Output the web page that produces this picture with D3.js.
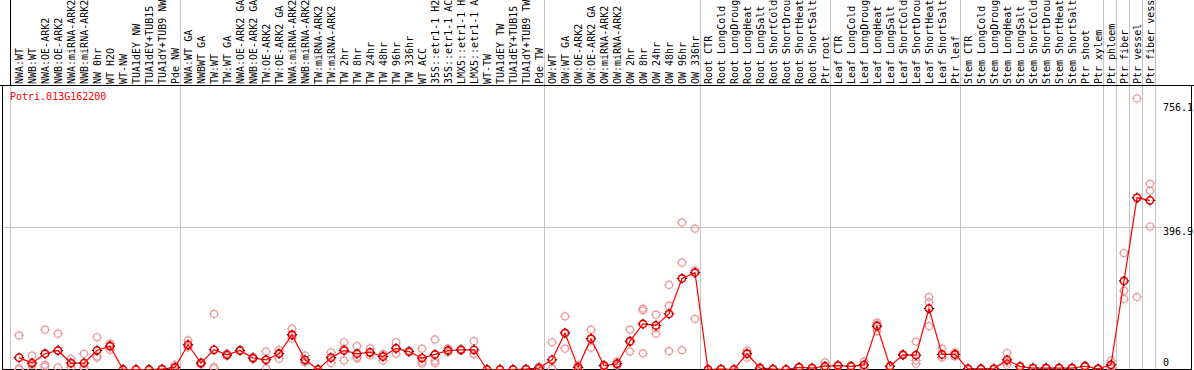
<!DOCTYPE html>
<html><head><meta charset="utf-8">
<script src="https://cdn.jsdelivr.net/npm/d3@7/dist/d3.min.js"></script>
<style>
html,body{margin:0;padding:0;background:#fff;}
svg{display:block;}
text{font-family:"DejaVu Sans Mono",monospace;font-size:10px;}
</style></head>
<body>
<svg id="chart" width="1194" height="370"></svg>
<script>
const geneName = "Potri.013G162200";
const categories = [
 "NWA:WT","NWB:WT","NWA:OE-ARK2","NWB:OE-ARK2","NWA:miRNA-ARK2","NWB:miRNA-ARK2","NW 0hr","WT H2O","WT-NW","TUA1dEY NW","TUA1dEY+TUB15","TUA1dY+TUB9 NW","Pde NW",
 "NWA:WT GA","NWBWT GA","TW:WT","TW:WT GA","NWA:OE-ARK2 GA","NWB:OE-ARK2 GA","TW:OE-ARK2","TW:OE-ARK2 GA","NWA:miRNA-ARK2","NWB:miRNA-ARK2","TW:miRNA-ARK2","TW:miRNA-ARK2","TW 2hr","TW 8hr","TW 24hr","TW 48hr","TW 96hr","TW 336hr","WT ACC","35S::etr1-1 H2","35S::etr1-1 AC","LMX5::etr1-1 H","LMX5::etr1-1 A","WT-TW","TUA1dEY TW","TUA1dEY+TUB15","TUA1dY+TUB9 TW","Pde TW",
 "OW:WT","OW:WT GA","OW:OE-ARK2","OW:OE-ARK2 GA","OW:miRNA-ARK2","OW:miRNA-ARK2","OW 2hr","OW 8hr","OW 24hr","OW 48hr","OW 96hr","OW 336hr",
 "Root CTR","Root LongCold","Root LongDroug","Root LongHeat","Root LongSalt","Root ShortCold","Root ShortDrou","Root ShortHeat","Root ShortSalt","Ptr root",
 "Leaf CTR","Leaf LongCold","Leaf LongDroug","Leaf LongHeat","Leaf LongSalt","Leaf ShortCold","Leaf ShortDrou","Leaf ShortHeat","Leaf ShortSalt","Ptr leaf",
 "Stem CTR","Stem LongCold","Stem LongDroug","Stem LongHeat","Stem LongSalt","Stem ShortCold","Stem ShortDrou","Stem ShortHeat","Stem ShortSalt","Ptr shoot","Ptr xylem",
 "Ptr phloem","Ptr fiber","Ptr vessel","Ptr fiber vess"
];
// last category index (0-based) of each group, separators drawn after them
const groupEnds = [12, 40, 52, 62, 72, 83, 84, 85, 86, 87];
const meanValues = [
 33,18,44,53,18,18,53,65,0,0,0,1,6,
 69,18,55,41,53,32,27,44,97,27,0,33,53,44,48,36,59,50,32,42,53,55,55,0,0,0,1,4,
 27,102,6,86,11,16,79,127,123,155,254,270,
 0,1,0,44,4,1,0,6,4,9,
 11,9,13,121,9,41,40,170,42,42,
 2,2,2,27,8,4,4,4,4,9,2,
 13,247,479,472
];
const rep1 = [
 95,39,111,100,30,44,90,72,0,0,0,2,13,
 81,20,155,45,55,35,50,55,114,39,0,48,76,65,59,44,76,52,58,84,59,57,79,0,0,0,2,8,
 76,148,12,111,13,22,111,170,153,178,410,393,
 0,2,0,53,6,2,0,8,5,20,
 13,10,22,131,10,43,78,202,58,48,
 3,3,3,46,10,5,5,5,5,11,3,
 25,325,756.1,518
];
const rep2 = [
 3,13,13,53,17,6,36,68,0,0,0,1,4,
 64,18,7,40,52,31,27,46,94,22,0,32,58,35,46,40,59,50,21,24,52,55,44,0,0,0,1,3,
 3,101,5,86,10,15,76,165,116,236,298,276,
 0,1,0,45,4,1,0,6,4,4,
 11,9,10,125,9,41,25,188,34,42,
 2,2,2,21,8,4,4,4,4,9,2,
 10,220,480,499
];
const rep3 = [
 0,1,8,6,6,3,33,55,0,0,0,0,1,
 62,14,3,38,52,30,3,30,86,20,0,18,25,31,39,25,44,48,16,18,48,53,42,0,0,0,0,1,
 2,58,1,61,9,11,50,45,100,51,54,141,
 0,0,0,33,2,0,0,5,3,3,
 9,8,7,107,8,39,16,121,34,36,
 1,1,1,13,7,3,3,3,3,7,1,
 4,197,202,399
];
const yMax = 793.8;
const yTickValues = [756.1, 396.9, 0];
const yTickLabels = ["756.1", "396.9", "0"];

const W = 1194, H = 370;
const plotTop = 85, plotBottom = 369.5, plotLeft = 2, plotRight = 1191;
const svg = d3.select("#chart");

const x = d3.scalePoint().domain(d3.range(categories.length)).range([19, 19 + 13 * (categories.length - 1)]);
const y = d3.scaleLinear().domain([0, yMax]).range([plotBottom, plotTop]);

// separators (gray, full height)
const sepX = [x(0) - 9].concat(groupEnds.map(i => x(i) + 5));
svg.append("g").selectAll("line").data(sepX).join("line")
  .attr("x1", d => Math.round(d) + 0.5).attr("x2", d => Math.round(d) + 0.5)
  .attr("y1", 0).attr("y2", H)
  .attr("stroke", "#c4c4c4").attr("stroke-width", 1);

// horizontal grid at mid value
svg.append("line")
  .attr("x1", plotLeft).attr("x2", 1162)
  .attr("y1", Math.round(y(yTickValues[1])) + 0.5).attr("y2", Math.round(y(yTickValues[1])) + 0.5)
  .attr("stroke", "#c4c4c4");

// frame
const frame = svg.append("g").attr("stroke", "#000").attr("stroke-width", 1);
frame.append("line").attr("x1", 0).attr("x2", W).attr("y1", plotTop + 0.5).attr("y2", plotTop + 0.5);
frame.append("line").attr("x1", plotLeft + 0.5).attr("x2", plotLeft + 0.5).attr("y1", plotTop).attr("y2", H);
frame.append("line").attr("x1", plotRight + 0.5).attr("x2", plotRight + 0.5).attr("y1", plotTop).attr("y2", H);
frame.append("line").attr("x1", 10.5).attr("x2", 10.5).attr("y1", 0).attr("y2", plotTop);
frame.append("line").attr("x1", plotLeft).attr("x2", plotRight + 1).attr("y1", 369.5).attr("y2", 369.5);

// category labels (rotated)
svg.append("g").selectAll("text").data(categories).join("text")
  .attr("transform", (d, i) => `translate(${x(i) + 3.5},84) rotate(-90)`)
  .attr("fill", "#000")
  .text(d => d);

// y labels
const yOffsets = [12, 8, -4];
svg.append("g").selectAll("text").data(yTickValues).join("text")
  .attr("x", 1163)
  .attr("y", (d, i) => y(d) + yOffsets[i])
  .attr("fill", "#000")
  .text((d, i) => yTickLabels[i]);

// gene name
svg.append("text").attr("x", 10).attr("y", 100).attr("fill", "#ff0000").text(geneName);

// replicates
const reps = [];
categories.forEach((c, i) => { [rep1, rep2, rep3].forEach(r => reps.push({i, v: r[i]})); });
const repG = svg.append("g").selectAll("g").data(reps).join("g")
  .attr("transform", d => `translate(${x(d.i)},${y(d.v)})`);
repG.append("circle").attr("r", 3.5)
  .attr("fill", "none").attr("stroke", "#ee9a9a").attr("stroke-width", 1.2);
repG.append("path").attr("d", "M0,-3.5V-5M0,3.5V5M-3.5,0H-5M3.5,0H5")
  .attr("stroke", "#ee9a9a").attr("stroke-width", 1);

// mean line
const line = d3.line().x((d, i) => x(i)).y(d => y(d));
svg.append("path").datum(meanValues).attr("d", line)
  .attr("fill", "none").attr("stroke", "#ff0000").attr("stroke-width", 1.2);

const meanG = svg.append("g").selectAll("g").data(meanValues).join("g")
  .attr("transform", (d, i) => `translate(${x(i)},${y(d)})`);
meanG.append("circle").attr("r", 3.6)
  .attr("fill", "none").attr("stroke", "#ff0000").attr("stroke-width", 1.6);
meanG.append("path").attr("d", "M0,-3.6V-5.2M0,3.6V5.2M-3.6,0H-5.2M3.6,0H5.2")
  .attr("stroke", "#000").attr("stroke-width", 1);
</script>
</body></html>
